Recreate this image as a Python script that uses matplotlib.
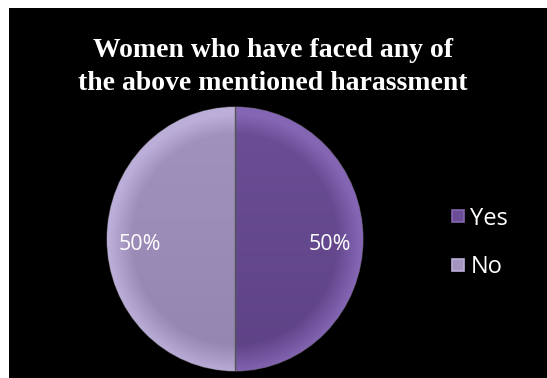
import matplotlib
matplotlib.use("Agg")
import matplotlib.pyplot as plt
import numpy as np
from matplotlib.patches import Rectangle
from matplotlib.lines import Line2D

categories = ["Yes", "No"]
values = [50, 50]
colors = ["#6b4d96", "#a394c0"]
light = ["#8466b4", "#bbaed8"]
dark = ["#5e4286", "#9484b0"]
title = "Women who have faced any of\nthe above mentioned harassment"

W, H = 547, 378
fig = plt.figure(figsize=(W / 100, H / 100), dpi=100)
fig.patch.set_facecolor("white")
fig.patches.append(Rectangle((9 / W, 0), 1 - 9 / W, (H - 8) / H, transform=fig.transFigure,
                             facecolor="black", edgecolor="none", zorder=-5))

cx, cy, rx, ry = 235, H - 239, 128, 132
ax = fig.add_axes([(cx - rx) / W, (cy - ry) / H, 2 * rx / W, 2 * ry / H])
ax.set_zorder(2)
ax.patch.set_visible(False)
wedges, texts, autotexts = ax.pie(values, colors=colors, startangle=90, counterclock=False,
                                  autopct="%1.0f%%", pctdistance=0.74,
                                  wedgeprops=dict(edgecolor="#4a4a4a", linewidth=0.8),
                                  textprops=dict(color="white", fontsize=15.5, family="Open Sans"))

# shading gradient inside each wedge
yy, xx = np.mgrid[-1:1:300j, -1:1:300j]
rr = np.sqrt(xx ** 2 + yy ** 2)
for w, lc, dc in zip(wedges, light, dark):
    c1 = np.array(matplotlib.colors.to_rgb(dc))
    c2 = np.array(matplotlib.colors.to_rgb(lc))
    t = np.clip((rr - 0.80) / 0.2, 0, 1)[..., None] * 0.9 + np.clip((yy + 1) / 2, 0, 1)[..., None] * 0.35
    t = np.clip(t, 0, 1)
    img = c1 * (1 - t) + c2 * t
    im = ax.imshow(img, extent=(-1, 1, -1, 1), origin="lower", zorder=1.5, aspect="auto")
    im.set_clip_path(w)
for w in wedges:
    w.set_zorder(1)
for t in autotexts:
    t.set_zorder(3)
    x, y = t.get_position()
    t.set_position((x, y - 0.045))
ax.plot([0, 0], [-1, 1], color="#555555", lw=1.0, zorder=2)
ax.set_aspect("auto")
ax.set_xlim(-1, 1)
ax.set_ylim(-1, 1)

fig.text(273 / W, 1 - 67 / H, title, ha="center", va="center", color="white",
         fontsize=20, fontweight="bold", family="Liberation Serif", linespacing=1.4)

handles = [Line2D([], [], marker="s", linestyle="none", markersize=8,
                  markerfacecolor=c, markeredgecolor=l, markeredgewidth=1.2) for c, l in zip(colors, light)]
leg = fig.legend(handles, categories, loc="center left", bbox_to_anchor=(428 / W, 1 - 243 / H),
                 frameon=False, labelcolor="white", handlelength=0.7, handletextpad=0.2,
                 labelspacing=1.05, prop=dict(family="Open Sans", size=17))

fig.savefig("out.png", dpi=100, facecolor="white")
